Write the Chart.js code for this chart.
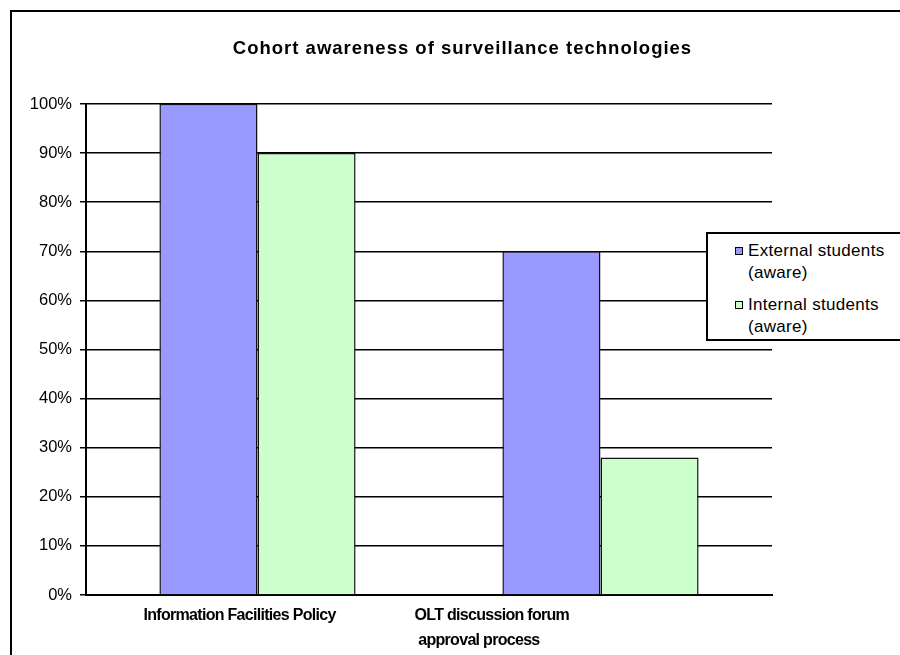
<!DOCTYPE html>
<html>
<head>
<meta charset="utf-8">
<script src="https://cdn.jsdelivr.net/npm/chart.js@4/dist/chart.umd.min.js"></script>
<style>
  body { margin: 0; background: #fff; font-family: "Liberation Sans", Arial, sans-serif; }
  #wrap { position: relative; width: 900px; height: 655px; overflow: hidden; }
  #frame { position: absolute; left: 10px; top: 10px; width: 1000px; height: 1000px; border: 2px solid #000; box-sizing: border-box; }
  #chart { position: absolute; left: 0; top: 0; }
  #title { position: absolute; left: 0; width: 925px; top: 37px; text-align: center; font-weight: bold; font-size: 18.5px; letter-spacing: 1px; color: #000; }
  #legend { position: absolute; left: 706px; top: 232px; width: 300px; height: 109px; border: 2px solid #000; background: #fff; box-sizing: border-box; font-size: 17px; letter-spacing: 0.3px; color: #000; }
  .item { position: absolute; left: 40px; line-height: 22px; }
  .sw { position: absolute; left: -13px; top: 7px; width: 6px; height: 6px; border: 1px solid #000; }
</style>
</head>
<body>
<div id="wrap">
  <div id="frame"></div>
  <canvas id="chart" width="900" height="655"></canvas>
  <div id="title"></div>
  <div id="legend"></div>
</div>
<script>
const chartTitle = 'Cohort awareness of surveillance technologies';
const categories = [['Information Facilities Policy'], ['OLT discussion forum', ' approval process']];
const seriesNames = ['External students (aware)', 'Internal students (aware)'];
const legendLines = [['External students', '(aware)'], ['Internal students', '(aware)']];
const externalAware = [100, 70];
const internalAware = [90, 28];
const colors = ['#9999ff', '#ccffcc'];

// category labels sit left of the category centre in the original
const labelShift = [-114, -186];

const categoryLabels = {
    id: 'categoryLabels',
    afterDraw(chart) {
        const c = chart.ctx;
        const x = chart.scales.x;
        c.save();
        c.fillStyle = '#000';
        c.font = 'bold 16px "Liberation Sans"';
        c.letterSpacing = '-0.7px';
        c.textAlign = 'left';
        c.textBaseline = 'middle';
        chart.data.labels.forEach((lines, i) => {
            const left = x.getPixelForValue(i) + labelShift[i];
            lines.forEach((line, j) => {
                c.fillText(line, left, x.bottom - 39 + j * 25);
            });
        });
        c.restore();
    }
};

const ctx = document.getElementById('chart').getContext('2d');
new Chart(ctx, {
    type: 'bar',
    data: {
        labels: categories,
        datasets: [
            { label: seriesNames[0], data: externalAware, backgroundColor: colors[0], borderColor: '#111', borderWidth: 1.5 },
            { label: seriesNames[1], data: internalAware, backgroundColor: colors[1], borderColor: '#111', borderWidth: 1.5 }
        ]
    },
    options: {
        responsive: false,
        animation: false,
        layout: { padding: { left: 0, right: 128, top: 104, bottom: 0 } },
        datasets: { bar: { categoryPercentage: 0.572, barPercentage: 1.0 } },
        scales: {
            x: {
                grid: { display: false },
                border: { display: true, color: '#000', width: 2 },
                ticks: { display: false },
                afterFit: axis => { axis.height = 60; }
            },
            y: {
                min: 0, max: 100,
                ticks: { stepSize: 10, color: '#000', font: { family: 'Liberation Sans', size: 16.5 }, padding: 8, callback: v => v + '%' },
                grid: { color: '#000', lineWidth: 1.5, tickLength: 6 },
                border: { display: true, color: '#000', width: 2 },
                afterFit: axis => { axis.width = 86; }
            }
        },
        plugins: {
            legend: { display: false },
            tooltip: { enabled: false },
            title: { display: false }
        }
    },
    plugins: [categoryLabels]
});

document.getElementById('title').textContent = chartTitle;

// legend drawn as html, matches the boxed legend on the right
const legendDiv = document.getElementById('legend');
legendLines.forEach((lines, i) => {
    const item = document.createElement('div');
    item.className = 'item';
    item.style.top = (6 + i * 54) + 'px';
    item.innerHTML = '<span class="sw" style="background:' + colors[i] + '"></span>' + lines.join('<br>');
    legendDiv.appendChild(item);
});
</script>
</body>
</html>
